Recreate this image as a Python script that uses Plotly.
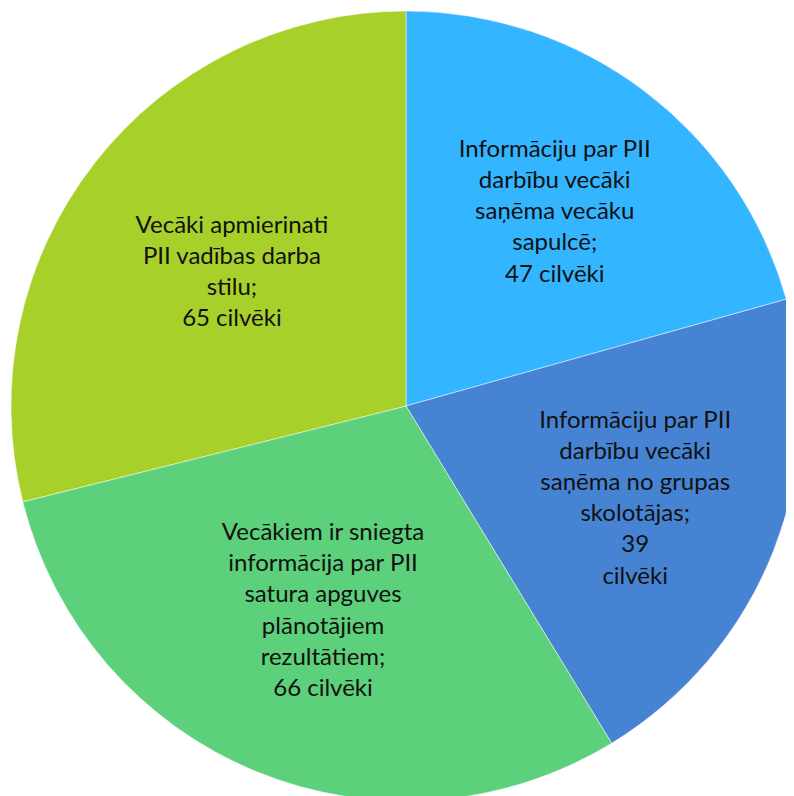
import plotly.graph_objects as go

labels = [
    "Informāciju par PII darbību vecāki saņēma vecāku sapulcē",
    "Informāciju par PII darbību vecāki saņēma no grupas skolotājas",
    "Vecākiem ir sniegta informācija par PII satura apguves plānotājiem rezultātiem",
    "Vecāki apmierinati PII vadības darba stilu",
]
# slice sizes
slice_sizes = [45, 45, 65, 63]
label_texts = [
    "Informāciju par PII<br>darbību vecāki<br>saņēma vecāku<br>sapulcē;<br>47 cilvēki",
    "Informāciju par PII<br>darbību vecāki<br>saņēma no grupas<br>skolotājas;<br>39<br>cilvēki",
    "Vecākiem ir sniegta<br>informācija par PII<br>satura apguves<br>plānotājiem<br>rezultātiem;<br>66 cilvēki",
    "Vecāki apmierinati<br>PII vadības darba<br>stilu;<br>65 cilvēki",
]
colors = ["#33B5FF", "#4684D3", "#5CD07A", "#A7D02A"]

fig = go.Figure(go.Pie(
    labels=labels,
    values=slice_sizes,
    text=label_texts,
    textinfo="text",
    textposition="inside",
    insidetextorientation="horizontal",
    sort=False,
    direction="clockwise",
    rotation=0,
    marker=dict(colors=colors, line=dict(color="rgba(255,255,255,0.6)", width=0.8)),
    textfont=dict(family="Lato", size=24, color="#111111"),
    hoverinfo="label+value",
    showlegend=False,
))
fig.update_layout(
    width=794, height=796,
    margin=dict(l=3, r=1, t=3, b=3),
    paper_bgcolor="white",
    uniformtext=dict(minsize=24, mode="show"),
)
fig.write_html("out.html")
